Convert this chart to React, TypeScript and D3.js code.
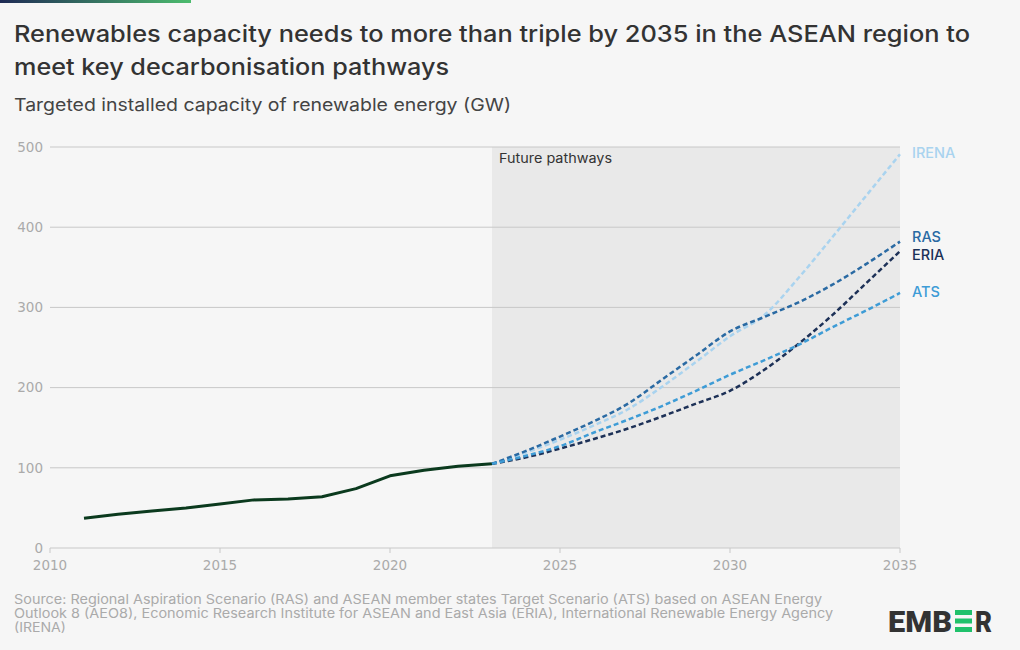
import React from "react";
import * as d3 from "d3";

const histYears = [2011, 2012, 2013, 2014, 2015, 2016, 2017, 2018, 2019, 2020, 2021, 2022, 2023];
const histValues = [37, 42, 46, 50, 55, 60, 61, 64, 74, 90, 97, 102, 105];

const futureYears = [2023, 2024, 2025, 2026, 2027, 2028, 2029, 2030, 2031, 2032, 2033, 2034, 2035];
const irena = [105, 119, 135, 153, 173, 201, 232, 264, 290, 336, 387, 439, 491];
const ras = [105, 121, 139, 158, 180, 210, 240, 270, 288, 306, 328, 354, 382];
const eria = [105, 113, 124, 136, 149, 164, 180, 196, 222, 254, 290, 330, 370];
const ats = [105, 115, 127, 144, 160, 177, 196, 216, 234, 253, 275, 296, 318];

const seriesNames = ["IRENA", "RAS", "ERIA", "ATS"];
const seriesColors = ["#a9d3ef", "#2a6aa3", "#1d3157", "#3e9cd6"];
const seriesValues = [irena, ras, eria, ats];

const yTicks = [0, 100, 200, 300, 400, 500];
const xTicks = [2010, 2015, 2020, 2025, 2030, 2035];

const title1 = "Renewables capacity needs to more than triple by 2035 in the ASEAN region to";
const title2 = "meet key decarbonisation pathways";
const subtitle = "Targeted installed capacity of renewable energy (GW)";
const source = [
  "Source: Regional Aspiration Scenario (RAS) and ASEAN member states Target Scenario (ATS) based on ASEAN Energy",
  "Outlook 8 (AEO8), Economic Research Institute for ASEAN and East Asia (ERIA), International Renewable Energy Agency",
  "(IRENA)",
];
const sourceWidths = [808, 819, 52];

export default function App() {
  const W = 1020, H = 650;
  const x = d3.scaleLinear().domain([2010, 2035]).range([50, 900]);
  const y = d3.scaleLinear().domain([0, 500]).range([548, 147]);
  const smooth = d3
    .line<[number, number]>()
    .x((d) => x(d[0]))
    .y((d) => y(d[1]))
    .curve(d3.curveMonotoneX);
  const straight = d3
    .line<[number, number]>()
    .x((d) => x(d[0]))
    .y((d) => y(d[1]));
  const font = "Inter, 'Noto Sans', sans-serif";
  const tickFont = "'DejaVu Sans', sans-serif";
  const histPath = straight(histYears.map((yr, i) => [yr, histValues[i]]) as [number, number][]);
  const labelY = [153, 237, 255, 292];

  return (
    <svg width={W} height={H} style={{ position: "absolute", left: 0, top: 0, fontFamily: font }}>
      <defs>
        <linearGradient id="topbar" x1="0" x2="1" y1="0" y2="0">
          <stop offset="0" stopColor="#1f2b55" />
          <stop offset="1" stopColor="#4cbc6e" />
        </linearGradient>
      </defs>
      <rect x={0} y={0} width={W} height={H} fill="#f6f6f6" />
      <rect x={0} y={0} width={191} height={3} fill="url(#topbar)" />
      <text x={14} y={42} fontSize={22.5} fontWeight={500} fill="#333" textLength={956} lengthAdjust="spacingAndGlyphs">{title1}</text>
      <text x={14} y={75} fontSize={22.5} fontWeight={500} fill="#333" textLength={435} lengthAdjust="spacingAndGlyphs">{title2}</text>
      <text x={14} y={111} fontSize={17.5} fill="#444" textLength={497} lengthAdjust="spacingAndGlyphs">{subtitle}</text>

      <rect x={x(2023)} y={y(500)} width={x(2035) - x(2023)} height={y(0) - y(500)} fill="#e9e9e9" />
      {yTicks.map((t) => (
        <g key={t}>
          {t > 0 && <line x1={50} x2={900} y1={y(t)} y2={y(t)} stroke="#c8c8c8" strokeWidth={1} />}
          <text x={43} y={y(t)} dy="0.36em" textAnchor="end" fontSize={13.5} fill="#aaa" fontFamily={tickFont}>{t}</text>
        </g>
      ))}
      <line x1={50} x2={900} y1={y(0)} y2={y(0)} stroke="#c8c8c8" strokeWidth={1} />
      {xTicks.map((t) => (
        <g key={t}>
          <line x1={x(t)} x2={x(t)} y1={y(0)} y2={y(0) + 5} stroke="#c8c8c8" />
          <text x={x(t)} y={570} textAnchor="middle" fontSize={13.5} fill="#aaa" fontFamily={tickFont}>{t}</text>
        </g>
      ))}
      <text x={x(2023) + 7} y={163} fontSize={13} fill="#333" textLength={113} lengthAdjust="spacingAndGlyphs">Future pathways</text>

      <path d={histPath || ""} fill="none" stroke="#0b3a1e" strokeWidth={3} strokeLinejoin="round" />
      {seriesValues.map((vals, i) => (
        <path
          key={seriesNames[i]}
          d={smooth(futureYears.map((yr, j) => [yr, vals[j]]) as [number, number][]) || ""}
          fill="none"
          stroke={seriesColors[i]}
          strokeWidth={2.5}
          strokeDasharray="5,3"
        />
      ))}
      {seriesNames.map((n, i) => (
        <text key={n} x={912} y={labelY[i]} dy="0.36em" fontSize={14.5} fontWeight={500} fill={seriesColors[i]}>
          {n}
        </text>
      ))}

      {source.map((s, i) => (
        <text key={i} x={14} y={604 + i * 14} fontSize={13} fill="#aaa" textLength={sourceWidths[i]} lengthAdjust="spacingAndGlyphs">{s}</text>
      ))}
      <g transform="translate(888,610)">
        <text x={0} y={22} fontSize={30} fontWeight={900} fill="#333" style={{ fontFamily: "Roboto, sans-serif" }} textLength={64} lengthAdjust="spacingAndGlyphs">EMB</text>
        <rect x={67} y={0} width={17} height={5} fill="#1fc16b" />
        <rect x={67} y={8.5} width={17} height={5} fill="#1fc16b" />
        <rect x={67} y={17} width={17} height={5} fill="#1fc16b" />
        <text x={87} y={22} fontSize={30} fontWeight={900} fill="#333" style={{ fontFamily: "Roboto, sans-serif" }} textLength={17} lengthAdjust="spacingAndGlyphs">R</text>
      </g>
    </svg>
  );
}
